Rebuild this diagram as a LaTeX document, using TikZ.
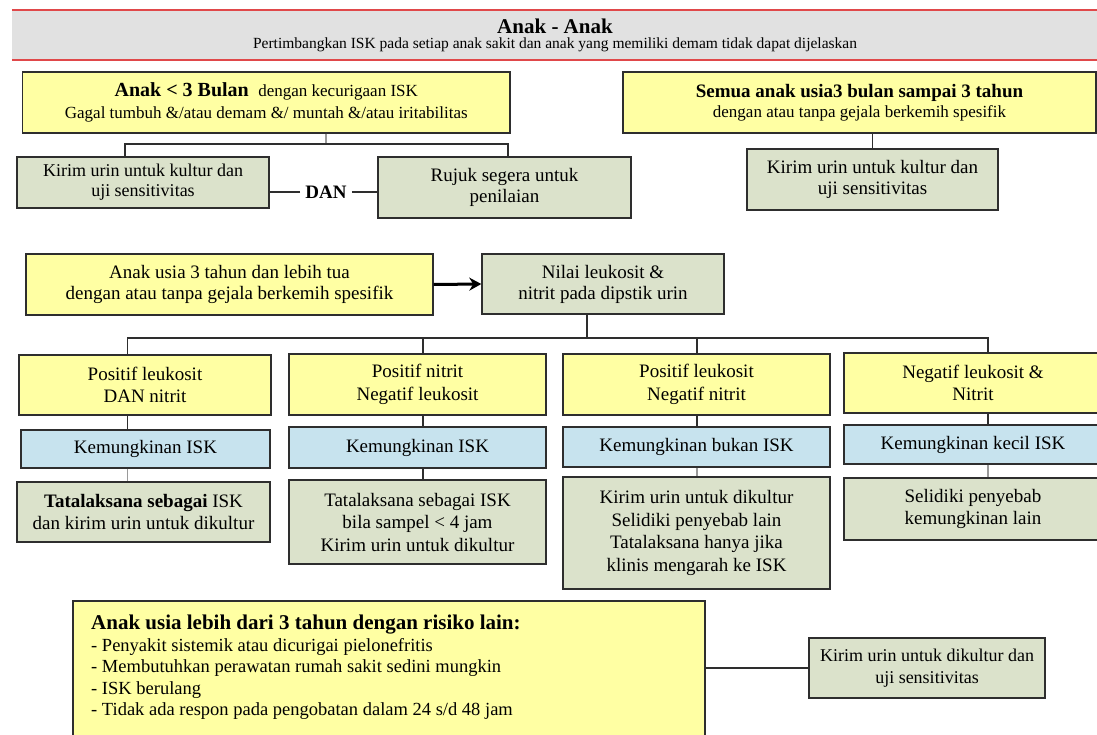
\documentclass[tikz,border=0pt]{standalone}
\usepackage{fontspec}
\setmainfont{Liberation Serif}
\usetikzlibrary{arrows.meta}
\definecolor{yel}{HTML}{FFFFA3}
\definecolor{grn}{HTML}{DBE2CB}
\definecolor{blu}{HTML}{C7E3EE}
\definecolor{hdrgray}{HTML}{E1E1E1}
\definecolor{hdrred}{HTML}{E0484A}
\definecolor{boxline}{HTML}{2E2E2E}
\definecolor{lightline}{HTML}{9A9A9A}
\tikzset{
  bx/.style={draw=boxline, line width=1.4pt, inner sep=2pt, align=center,
    font=\fontsize{19}{22.5}\selectfont},
  ybox/.style={bx, fill=yel},
  gbox/.style={bx, fill=grn},
  bbox/.style={bx, fill=blu},
  conn/.style={draw=boxline, line width=1.3pt},
  connl/.style={draw=lightline, line width=1.3pt},
  arr/.style={draw=black, line width=3pt, -{Stealth[length=12pt,width=13pt]}},
}
\begin{document}
\begin{tikzpicture}[x=1pt,y=-1pt]
\useasboundingbox (0,0) rectangle (1097,735);
\clip (0,0) rectangle (1097,735);
\fill[white] (0,0) rectangle (1097,735);

% header
\node[fill=hdrgray, minimum width=1085pt, minimum height=50pt, inner sep=0] (H) at (554.5,35) {};
\draw[hdrred, line width=1.5pt] (H.north west) -- (H.north east);
\draw[hdrred, line width=1.5pt] (H.south west) -- (H.south east);
\node[anchor=base, font=\fontsize{21}{24}\selectfont\bfseries] (Ht) at (555,34) {Anak - Anak};
\node[anchor=base, font=\fontsize{15.5}{18}\selectfont] (Hs) at (555,49) {Pertimbangkan ISK pada setiap anak sakit dan anak yang memiliki demam tidak dapat dijelaskan};

% top row
\node[ybox, minimum width=487.5pt, minimum height=61pt] (A) at (266.25,102.5)
 {{\fontsize{20}{20}\selectfont\bfseries Anak < 3 Bulan}\ \ {\fontsize{17}{20}\selectfont dengan kecurigaan ISK}\\[-1pt]
  \fontsize{17}{20}\selectfont Gagal tumbuh \&/atau demam \&/ muntah \&/atau iritabilitas};
\node[ybox, minimum width=473pt, minimum height=61pt] (B) at (859.5,102.5)
 {{\fontsize{19}{20}\selectfont\bfseries Semua anak usia3 bulan sampai 3 tahun}\\[-3pt]
  \fontsize{17}{20}\selectfont dengan atau tanpa gejala berkemih spesifik};

\node[gbox, minimum width=252pt, minimum height=51pt, font=\fontsize{18}{20}\selectfont] (K1) at (143,182.5)
 {Kirim urin untuk kultur dan\\uji sensitivitas};
\node[gbox, minimum width=253pt, minimum height=61pt, font=\fontsize{19}{20.5}\selectfont] (R) at (504.5,187.5)
 {Rujuk segera untuk\\penilaian};
\node[font=\fontsize{19}{20}\selectfont\bfseries, inner sep=5pt] (dan) at (326,192) {DAN};
\node[gbox, minimum width=251pt, minimum height=61pt, font=\fontsize{19}{20.5}\selectfont] (K2) at (872.5,179.5)
 {Kirim urin untuk kultur dan\\uji sensitivitas};

\coordinate (jA) at (326,144);
\coordinate (dl) at (125,144);
\coordinate (dr) at (508,144);
\draw[connl] (A.south -| jA) -- (jA);
\draw[conn] (dl |- K1.north) -- (dl) -- (dr) -- (dr |- R.north);
\draw[conn] (dan.west) -- (dan.west -| K1.east);
\draw[conn] (dan.east) -- (dan.east -| R.west);
\draw[conn] (K2.north |- B.south) -- (K2.north);

% middle row
\node[ybox, minimum width=407pt, minimum height=61pt, font=\fontsize{19}{21}\selectfont] (C) at (229.5,284.5)
 {Anak usia 3 tahun dan lebih tua\\dengan atau tanpa gejala berkemih spesifik};
\node[gbox, minimum width=242pt, minimum height=60pt, font=\fontsize{19}{21}\selectfont] (D) at (603,284)
 {Nilai leukosit \&\\nitrit pada dipstik urin};
\draw[arr] (C.east) -- (D.west);

% columns
\node[ybox, minimum width=252pt, minimum height=60pt] (Y1) at (145,385) {Positif leukosit\\DAN nitrit};
\node[bbox, minimum width=249pt, minimum height=38pt] (B1) at (145.5,449) {Kemungkinan ISK};
\node[gbox, minimum width=253pt, minimum height=60pt] (G1) at (143.5,512)
 {\textbf{Tatalaksana sebagai} ISK\\dan kirim urin untuk dikultur};

\node[ybox, minimum width=257pt, minimum height=61pt] (Y2) at (417.5,384.5) {Positif nitrit\\Negatif leukosit};
\node[bbox, minimum width=257pt, minimum height=41pt] (B2) at (417.5,447.5) {Kemungkinan ISK};
\node[gbox, minimum width=257pt, minimum height=84pt] (G2) at (417.5,522)
 {Tatalaksana sebagai ISK\\bila sampel < 4 jam\\Kirim urin untuk dikultur};

\node[ybox, minimum width=267pt, minimum height=61pt] (Y3) at (696.5,384.5) {Positif leukosit\\Negatif nitrit};
\node[bbox, minimum width=267pt, minimum height=40pt] (B3) at (696.5,447) {Kemungkinan bukan ISK};
\node[gbox, minimum width=267pt, minimum height=112pt] (G3) at (696.5,533)
 {Kirim urin untuk dikultur\\Selidiki penyebab lain\\Tatalaksana hanya jika\\klinis mengarah ke ISK};

\node[ybox, minimum width=258pt, minimum height=60pt] (Y4) at (973,383) {Negatif leukosit \&\\Nitrit};
\node[bbox, minimum width=258pt, minimum height=39pt] (B4) at (973,444.5) {Kemungkinan kecil ISK};
\node[gbox, minimum width=258pt, minimum height=62pt] (G4) at (973,509)
 {Selidiki penyebab\\kemungkinan lain};

\coordinate (s1) at (127.5,338);
\coordinate (s2) at (423,338);
\coordinate (s3) at (697,338);
\coordinate (s4) at (988,338);
\coordinate (sD) at (587,338);
\draw[conn] (sD |- D.south) -- (sD);
\draw[conn] (s1 |- Y1.north) -- (s1) -- (s4) -- (s4 |- Y4.north);
\draw[conn] (s2) -- (s2 |- Y2.north);
\draw[conn] (s3) -- (s3 |- Y3.north);
\draw[conn] (s1 |- Y1.south) -- (s1 |- B1.north);
\draw[connl] (s1 |- B1.south) -- (s1 |- G1.north);
\draw[conn] (s2 |- Y2.south) -- (s2 |- B2.north);
\draw[conn] (s2 |- B2.south) -- (s2 |- G2.north);
\draw[conn] (s3 |- Y3.south) -- (s3 |- B3.north);
\draw[connl] (s3 |- B3.south) -- (s3 |- G3.north);
\draw[conn] (s4 |- Y4.south) -- (s4 |- B4.north);
\draw[connl] (s4 |- B4.south) -- (s4 |- G4.north);

% bottom
\node[ybox, minimum width=632pt, minimum height=179pt] (E) at (389,690.5) {};
\node[anchor=north west, inner sep=0, align=left, font=\fontsize{18.5}{21.5}\selectfont] (Et) at (91,615)
 {{\fontsize{21}{21.5}\selectfont\bfseries Anak usia lebih dari 3 tahun dengan risiko lain:}\\
  - Penyakit sistemik atau dicurigai pielonefritis\\
  - Membutuhkan perawatan rumah sakit sedini mungkin\\
  - ISK berulang\\
  - Tidak ada respon pada pengobatan dalam 24 s/d 48 jam};
\node[gbox, minimum width=236pt, minimum height=60pt, font=\fontsize{18}{22}\selectfont] (F) at (927,668)
 {Kirim urin untuk dikultur dan\\uji sensitivitas};
\draw[conn] (F.west -| E.east) -- (F.west);
\end{tikzpicture}
\end{document}
